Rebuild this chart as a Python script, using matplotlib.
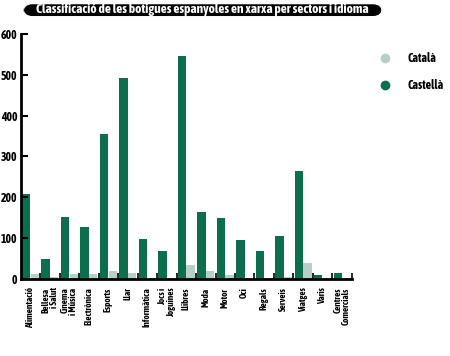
import numpy as np
import matplotlib
matplotlib.use("Agg")
import matplotlib.pyplot as plt
from matplotlib import font_manager
from matplotlib.patches import FancyBboxPatch
from matplotlib.lines import Line2D

# look for a narrow / condensed face, otherwise fall back to Liberation Sans
narrow = None
for f in font_manager.fontManager.ttflist:
    if ("Narrow" in f.name or "Condensed" in f.name) and f.weight in (700, "bold"):
        narrow = f.name
        break
if narrow is None:
    for f in font_manager.fontManager.ttflist:
        if "Condensed" in f.fname or "Narrow" in f.fname:
            narrow = f.name
            break
FONT = [narrow or "Liberation Sans", "DejaVu Sans"]
STRETCH = "condensed"

DARK = "#0d6e4e"
LIGHT = "#b7cfc6"

# data
sectors = [
    "Alimentació", "Bellesa\ni Salut", "Cinema\ni Música", "Electrònica",
    "Esports", "Llar", "Informàtica", "Jocs i\nJoguines", "Llibres", "Moda",
    "Motor", "Oci", "Regals", "Serveis", "Viatges", "Varis",
    "Centres\nComercials",
]
castella = [207, 50, 153, 127, 355, 492, 98, 69, 545, 164, 150, 96, 69, 105, 265, 10, 15]
catala = [12, 5, 12, 12, 20, 14, 2, 2, 34, 21, 10, 3, 2, 6, 40, 2, 3]
yticks = [0, 100, 200, 300, 400, 500, 600]

fig = plt.figure(figsize=(4.5, 3.56), dpi=100)
ax = fig.add_axes([0.046, 0.216, 0.736, 0.689])

x = np.arange(len(sectors))
w = 0.43
ax.bar(x - w / 2 - 0.01, castella, width=w, color=DARK, label="Castellà")
ax.bar(x + w / 2 + 0.01, catala, width=w, color=LIGHT, label="Català")

ax.set_xlim(-0.5, len(sectors) - 0.5)
ax.set_ylim(0, 600)
ax.spines[["top", "right"]].set_visible(False)
for s in ("left", "bottom"):
    ax.spines[s].set_linewidth(2)
    ax.spines[s].set_color("black")

ax.set_yticks(yticks)
ax.set_yticklabels([str(v) for v in yticks], family=FONT, fontweight="bold",
                   fontsize=8.5, stretch=STRETCH)
ax.tick_params(axis="y", direction="in", length=5, width=1.5, pad=2.5)

ax.set_xticks(x)
ax.set_xticklabels(sectors, rotation=90, family=FONT, fontweight="bold",
                   fontsize=6.6, va="top", ha="center", multialignment="right",
                   linespacing=0.95, stretch=STRETCH)
ax.tick_params(axis="x", which="major", length=0, pad=6)
ax.set_xticks(np.arange(len(sectors)) + 0.5, minor=True)
ax.tick_params(axis="x", which="minor", direction="in", length=4, width=1.2)

# title pill
pill = FancyBboxPatch((0.052, 0.955), 0.797, 0.033,
                      boxstyle="round,pad=0,rounding_size=0.02",
                      transform=fig.transFigure, facecolor="black",
                      edgecolor="none", mutation_aspect=1.26)
fig.patches.append(pill)
fig.text(0.45, 0.972, "Classificació de les botigues espanyoles en xarxa per sectors i idioma",
         color="white", ha="center", va="center", fontsize=9.6,
         fontweight="bold", family=FONT, stretch=STRETCH)

# legend
handles = [
    Line2D([], [], marker="o", ls="none", color=LIGHT, markersize=6, label="Català"),
    Line2D([], [], marker="o", ls="none", color=DARK, markersize=6, label="Castellà"),
]
fig.legend(handles=handles, loc="upper left", bbox_to_anchor=(0.805, 0.885),
           frameon=False, labelspacing=1.2, handletextpad=0.9,
           prop={"family": FONT, "weight": "bold", "size": 8.6, "stretch": STRETCH})

fig.savefig("out.png", dpi=100)
